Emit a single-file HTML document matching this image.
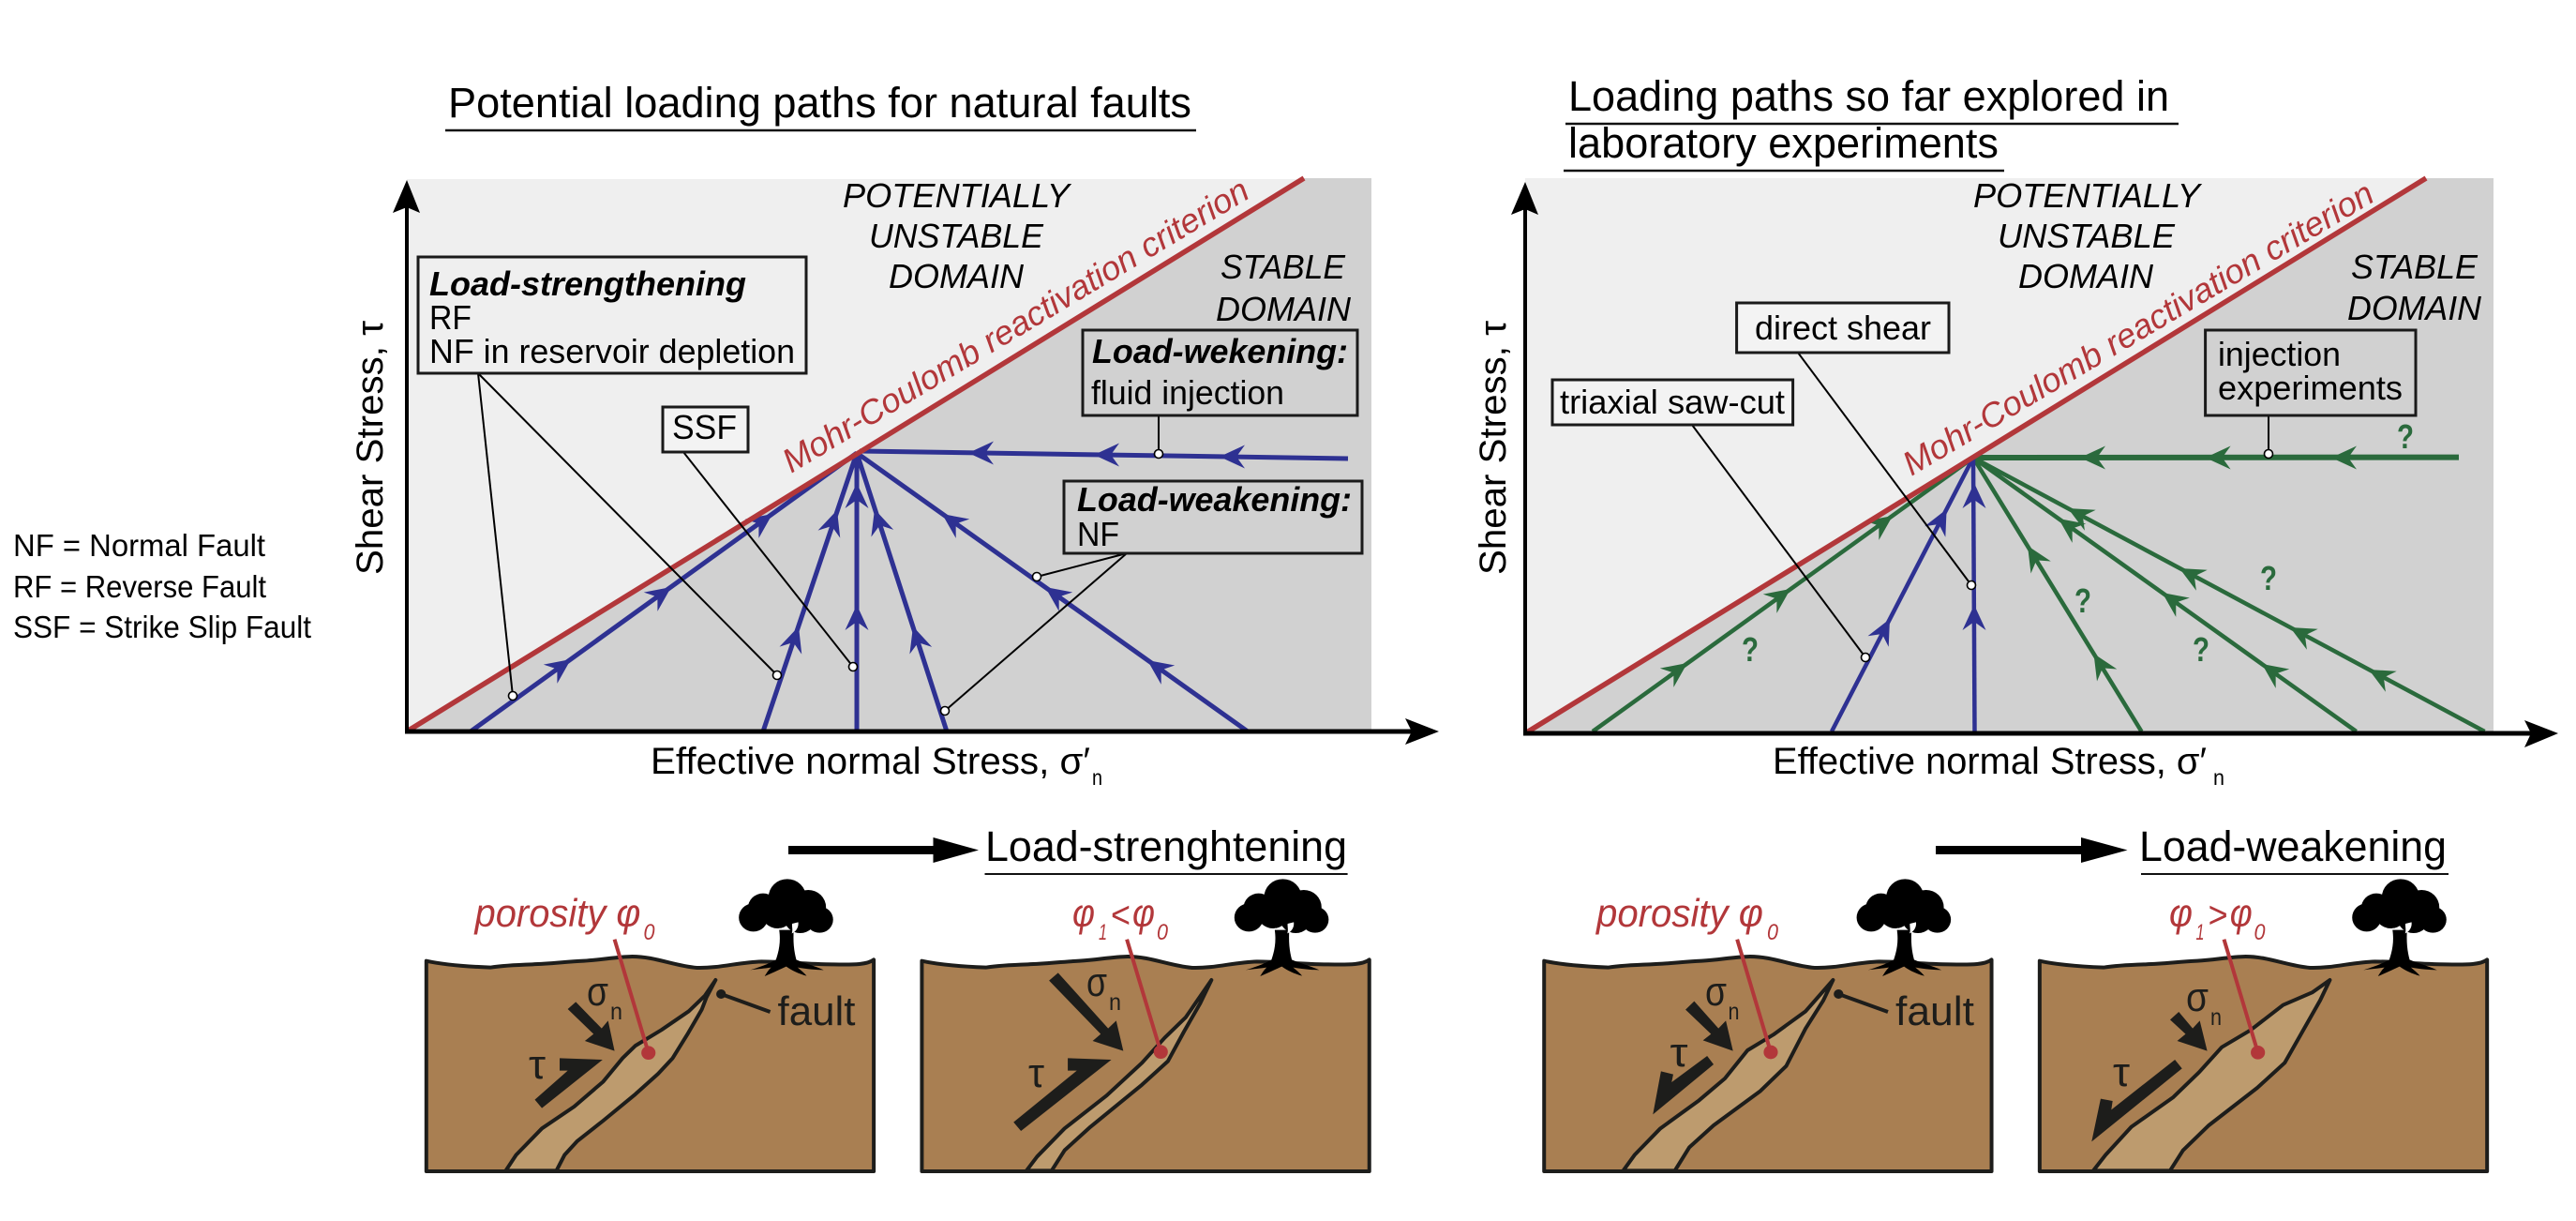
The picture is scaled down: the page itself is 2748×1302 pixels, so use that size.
<!DOCTYPE html>
<html><head><meta charset="utf-8"><style>
html,body{margin:0;padding:0;background:#fff;width:2748px;height:1302px;overflow:hidden}
svg{display:block}
text{font-family:"Liberation Sans","DejaVu Sans",sans-serif}
.i{font-style:italic}.b{font-weight:bold}
.k{stroke:#1d1d1b;stroke-width:4;vector-effect:non-scaling-stroke;stroke-linejoin:round}
.r{stroke:#b2373a;stroke-width:4;vector-effect:non-scaling-stroke}
.bx{stroke:#1a1a1a;stroke-width:3}
.ld{stroke:#000;stroke-width:2;fill:none}
.dot{fill:#fff;stroke:#000;stroke-width:1.6}
.red{fill:#b2373a}
.q{fill:#2a6a3c;font-size:36px;font-weight:bold}
</style></head><body>
<svg xmlns="http://www.w3.org/2000/svg" width="2748" height="1302" viewBox="0 0 2748 1302">
<defs>
<path id="h" d="M0 0L-27 -12.5L-18 0L-27 12.5Z"/>
<g id="ground">
<path class="k" fill="#a97f52" d="M72 434C120 445 200 452 270 455C300 450 340 447 400 445C460 443 500 437 560 434C620 430 660 421 710 420C780 420 840 450 910 456C980 458 1040 438 1110 436C1180 436 1250 445 1330 445C1400 447 1440 445 1458 430L1458 1107L72 1107Z"/>
<g fill="#000">
<circle cx="1190" cy="230" r="58"/><circle cx="1115" cy="265" r="47"/><circle cx="1085" cy="295" r="45"/><circle cx="1255" cy="262" r="55"/><circle cx="1290" cy="302" r="42"/><circle cx="1160" cy="280" r="50"/><circle cx="1230" cy="295" r="50"/>
<path d="M1165 335C1170 370 1165 400 1155 430C1130 445 1100 455 1075 463C1100 460 1120 458 1140 455C1130 465 1125 475 1120 483C1150 470 1170 460 1187 452C1205 465 1225 475 1250 482C1240 470 1230 462 1222 455C1250 460 1280 463 1303 463C1275 450 1240 440 1218 430C1210 400 1208 370 1210 335Z"/>
</g>
<path fill="#fff" d="M1140 325C1150 332 1160 332 1170 328C1160 338 1150 338 1140 325ZM1205 315L1224 310C1226 325 1218 340 1204 346C1208 335 1204 325 1205 315Z"/>
</g>
</defs>

<!-- LEFT CHART -->
<rect x="434" y="191" width="1029" height="589" fill="#efefef"/>
<polygon points="434,780 1391,190 1463,190 1463,780" fill="#d1d1d1"/>
<g stroke="#2e3192" stroke-width="5" fill="none">
<line x1="502" y1="780" x2="914" y2="483"/>
<line x1="814" y1="780" x2="914" y2="483"/>
<line x1="914" y1="780" x2="914" y2="483"/>
<line x1="1010" y1="780" x2="914" y2="483"/>
<line x1="1331" y1="780" x2="914" y2="483"/>
<line x1="1438" y1="489" x2="917" y2="481"/>
</g>
<g fill="#2e3192">
<use href="#h" transform="translate(609 703) rotate(-35.8)"/>
<use href="#h" transform="translate(716 626) rotate(-35.8)"/>
<use href="#h" transform="translate(824 548) rotate(-35.8)"/>
<use href="#h" transform="translate(852 668) rotate(-71.4)"/>
<use href="#h" transform="translate(893 544) rotate(-71.4)"/>
<use href="#h" transform="translate(914 645) rotate(-90)"/>
<use href="#h" transform="translate(914 515) rotate(-90)"/>
<use href="#h" transform="translate(974 668) rotate(-107.9)"/>
<use href="#h" transform="translate(933 543) rotate(-107.9)"/>
<use href="#h" transform="translate(1005 548) rotate(-144.5)"/>
<use href="#h" transform="translate(1115 626) rotate(-144.5)"/>
<use href="#h" transform="translate(1224 704) rotate(-144.5)"/>
<use href="#h" transform="translate(1033 483) rotate(180)"/>
<use href="#h" transform="translate(1167 485) rotate(180)"/>
<use href="#h" transform="translate(1301 487) rotate(180)"/>
</g>
<line x1="434" y1="780" x2="1391" y2="190" stroke="#b2373a" stroke-width="5.5"/>
<line x1="434" y1="205" x2="434" y2="782" stroke="#000" stroke-width="4"/>
<polygon points="434,192 448,227 434,221 419,227" fill="#000"/>
<line x1="432" y1="780" x2="1515" y2="780" stroke="#000" stroke-width="5"/>
<polygon points="1535,780 1499,766 1506,780 1499,794" fill="#000"/>
<g class="ld">
<line x1="510" y1="398" x2="547" y2="742"/><line x1="510" y1="398" x2="829" y2="720"/>
<line x1="729" y1="482" x2="910" y2="711"/>
<line x1="1236" y1="443" x2="1236" y2="484"/>
<line x1="1202" y1="590" x2="1106" y2="615"/><line x1="1202" y1="590" x2="1008" y2="758"/>
</g>
<g class="dot">
<circle cx="547" cy="742" r="4.5"/><circle cx="829" cy="720" r="4.5"/><circle cx="910" cy="711" r="4.5"/><circle cx="1008" cy="758" r="4.5"/><circle cx="1106" cy="615" r="4.5"/><circle cx="1236" cy="484" r="4.5"/>
</g>
<rect class="bx" x="446" y="274" width="414" height="124" fill="#efefef"/>
<rect class="bx" x="707" y="434" width="91" height="48" fill="#f3f3f3"/>
<rect class="bx" x="1155" y="352" width="293" height="91" fill="#d1d1d1"/>
<rect class="bx" x="1135" y="513" width="318" height="77" fill="#d1d1d1"/>
<g font-size="36">
<text x="458" y="315" class="i b" textLength="338" lengthAdjust="spacingAndGlyphs">Load-strengthening</text>
<text x="458" y="351" textLength="45" lengthAdjust="spacingAndGlyphs">RF</text>
<text x="458" y="387" textLength="390" lengthAdjust="spacingAndGlyphs">NF in reservoir depletion</text>
<text x="717" y="468" textLength="69" lengthAdjust="spacingAndGlyphs">SSF</text>
<text x="1165" y="387" class="i b" textLength="273" lengthAdjust="spacingAndGlyphs">Load-wekening:</text>
<text x="1164" y="431" textLength="206" lengthAdjust="spacingAndGlyphs">fluid injection</text>
<text x="1149" y="545" class="i b" textLength="293" lengthAdjust="spacingAndGlyphs">Load-weakening:</text>
<text x="1149" y="582" textLength="45" lengthAdjust="spacingAndGlyphs">NF</text>
<text x="899" y="221" class="i" textLength="242" lengthAdjust="spacingAndGlyphs">POTENTIALLY</text>
<text x="927" y="264" class="i" textLength="186" lengthAdjust="spacingAndGlyphs">UNSTABLE</text>
<text x="948" y="307" class="i" textLength="144" lengthAdjust="spacingAndGlyphs">DOMAIN</text>
<text x="1302" y="297" class="i" textLength="133" lengthAdjust="spacingAndGlyphs">STABLE</text>
<text x="1297" y="342" class="i" textLength="144" lengthAdjust="spacingAndGlyphs">DOMAIN</text>
</g>
<text transform="translate(844 505) rotate(-31)" class="i red" font-size="36" textLength="573" lengthAdjust="spacingAndGlyphs">Mohr-Coulomb reactivation criterion</text>
<text x="478" y="125" font-size="45" textLength="793" lengthAdjust="spacingAndGlyphs">Potential loading paths for natural faults</text>
<line x1="475" y1="139" x2="1276" y2="139" stroke="#111" stroke-width="2.5"/>
<text transform="translate(408 613) rotate(-90)" font-size="40" textLength="271" lengthAdjust="spacingAndGlyphs">Shear Stress, τ</text>
<text x="694" y="825" font-size="40" textLength="469" lengthAdjust="spacingAndGlyphs">Effective normal Stress, σ′</text>
<text x="1165" y="837" font-size="23" textLength="11" lengthAdjust="spacingAndGlyphs">n</text>

<!-- RIGHT CHART -->
<rect x="1627" y="190" width="1033" height="592" fill="#efefef"/>
<polygon points="1627,782 2588,190 2660,190 2660,782" fill="#d1d1d1"/>
<g stroke="#2a6a3c" stroke-width="4.5" fill="none">
<line x1="1699" y1="780" x2="2105" y2="488"/>
<line x1="2284.5" y1="780" x2="2105" y2="488"/>
<line x1="2513.6" y1="780" x2="2105" y2="488"/>
<line x1="2650.5" y1="780" x2="2105" y2="488"/>
<line x1="2623" y1="487.6" x2="2107" y2="488" stroke-width="6"/>
</g>
<g stroke="#2e3192" stroke-width="4.5" fill="none">
<line x1="1954" y1="780" x2="2105" y2="488"/>
<line x1="2106.5" y1="780" x2="2105" y2="488"/>
</g>
<g fill="#2a6a3c">
<use href="#h" transform="translate(1800 707) rotate(-35.7)"/>
<use href="#h" transform="translate(1910 628) rotate(-35.7)"/>
<use href="#h" transform="translate(2019 550) rotate(-35.7)"/>
<use href="#h" transform="translate(2163 582) rotate(-121.6)"/>
<use href="#h" transform="translate(2233.5 697) rotate(-121.6)"/>
<use href="#h" transform="translate(2196 553) rotate(-144.4)"/>
<use href="#h" transform="translate(2306.6 632) rotate(-144.4)"/>
<use href="#h" transform="translate(2413 708) rotate(-144.4)"/>
<use href="#h" transform="translate(2206 542) rotate(-151.8)"/>
<use href="#h" transform="translate(2325 606) rotate(-151.8)"/>
<use href="#h" transform="translate(2443 669) rotate(-151.8)"/>
<use href="#h" transform="translate(2527 714) rotate(-151.8)"/>
<use href="#h" transform="translate(2219 488) rotate(180)"/>
<use href="#h" transform="translate(2352.6 488) rotate(180)"/>
<use href="#h" transform="translate(2487 488) rotate(180)"/>
</g>
<g fill="#2e3192">
<use href="#h" transform="translate(2076.6 543) rotate(-62.7)"/>
<use href="#h" transform="translate(2016 660) rotate(-62.7)"/>
<use href="#h" transform="translate(2106 515) rotate(-90)"/>
<use href="#h" transform="translate(2106 645) rotate(-90)"/>
</g>
<line x1="1627" y1="782" x2="2588" y2="190" stroke="#b2373a" stroke-width="5.5"/>
<line x1="1627" y1="205" x2="1627" y2="784" stroke="#000" stroke-width="4"/>
<polygon points="1627,194 1641,229 1627,223 1612,229" fill="#000"/>
<line x1="1625" y1="782" x2="2710" y2="782" stroke="#000" stroke-width="5"/>
<polygon points="2729,782 2693,768 2700,782 2693,797" fill="#000"/>
<g class="ld">
<line x1="1918" y1="376" x2="2103" y2="624"/>
<line x1="1805" y1="453" x2="1990" y2="701"/>
<line x1="2420" y1="443" x2="2420" y2="484"/>
</g>
<g class="dot">
<circle cx="1990" cy="701" r="4.5"/><circle cx="2103" cy="624" r="4.5"/><circle cx="2420" cy="484" r="4.5"/>
</g>
<rect class="bx" x="1852.6" y="323" width="226.4" height="53" fill="#f3f3f3"/>
<rect class="bx" x="1656" y="405" width="256.6" height="48" fill="#f3f3f3"/>
<rect class="bx" x="2352.6" y="352" width="224.4" height="91" fill="#d1d1d1"/>
<g font-size="36">
<text x="1872" y="362" textLength="188" lengthAdjust="spacingAndGlyphs">direct shear</text>
<text x="1664" y="441" textLength="240" lengthAdjust="spacingAndGlyphs">triaxial saw-cut</text>
<text x="2366" y="390" textLength="131" lengthAdjust="spacingAndGlyphs">injection</text>
<text x="2366" y="426" textLength="197" lengthAdjust="spacingAndGlyphs">experiments</text>
<text x="2105" y="221" class="i" textLength="242" lengthAdjust="spacingAndGlyphs">POTENTIALLY</text>
<text x="2131" y="264" class="i" textLength="189" lengthAdjust="spacingAndGlyphs">UNSTABLE</text>
<text x="2153" y="307" class="i" textLength="144" lengthAdjust="spacingAndGlyphs">DOMAIN</text>
<text x="2508" y="297" class="i" textLength="135" lengthAdjust="spacingAndGlyphs">STABLE</text>
<text x="2504" y="341" class="i" textLength="143" lengthAdjust="spacingAndGlyphs">DOMAIN</text>
</g>
<text transform="translate(2039 508) rotate(-30.7)" class="i red" font-size="36" textLength="577" lengthAdjust="spacingAndGlyphs">Mohr-Coulomb reactivation criterion</text>
<text x="1858" y="705" class="q" textLength="18" lengthAdjust="spacingAndGlyphs">?</text>
<text x="2213" y="653" class="q" textLength="18" lengthAdjust="spacingAndGlyphs">?</text>
<text x="2339" y="705" class="q" textLength="18" lengthAdjust="spacingAndGlyphs">?</text>
<text x="2411" y="629" class="q" textLength="18" lengthAdjust="spacingAndGlyphs">?</text>
<text x="2557" y="478" class="q" textLength="18" lengthAdjust="spacingAndGlyphs">?</text>
<text x="1673" y="118" font-size="45" textLength="641" lengthAdjust="spacingAndGlyphs">Loading paths so far explored in</text>
<line x1="1670" y1="132" x2="2324" y2="132" stroke="#111" stroke-width="2.5"/>
<text x="1673" y="168" font-size="45" textLength="459" lengthAdjust="spacingAndGlyphs">laboratory experiments</text>
<line x1="1668" y1="182" x2="2138" y2="182" stroke="#111" stroke-width="2.5"/>
<text transform="translate(1606 613) rotate(-90)" font-size="40" textLength="271" lengthAdjust="spacingAndGlyphs">Shear Stress, τ</text>
<text x="1891" y="825" font-size="40" textLength="463" lengthAdjust="spacingAndGlyphs">Effective normal Stress, σ′</text>
<text x="2361" y="837" font-size="23" textLength="12" lengthAdjust="spacingAndGlyphs">n</text>

<!-- LEGEND -->
<g font-size="33">
<text x="14" y="593" textLength="269" lengthAdjust="spacingAndGlyphs">NF = Normal Fault</text>
<text x="14" y="637" textLength="270" lengthAdjust="spacingAndGlyphs">RF = Reverse Fault</text>
<text x="14" y="680" textLength="318" lengthAdjust="spacingAndGlyphs">SSF = Strike Slip Fault</text>
</g>

<!-- PANEL 1 -->
<g transform="translate(430 880) scale(0.34439 0.33333)">
<use href="#ground"/>
<polygon class="k" fill="#bd9b6e" points="318,1105 350,1055 430,970 530,900 620,820 680,745 720,705 800,655 885,595 935,545 968,495 940,550 925,590 880,670 835,745 790,795 720,860 620,945 540,1010 500,1055 475,1105"/>
<g fill="#1d1d1b">
<polygon points="510,588 535,565 615,650 635,625 655,722 563,690 590,668"/>
<polygon points="408,878 510,785 485,785 485,745 618,750 430,905"/>
<circle cx="985" cy="540" r="15"/>
</g>
<line class="k" x1="985" y1="540" x2="1137" y2="597"/>
<line class="r" x1="655" y1="365" x2="760" y2="728"/>
<circle cx="760" cy="728" r="22" fill="#b2373a"/>
</g>
<!-- PANEL 2 -->
<g transform="translate(960 880) scale(0.34439 0.33333)">
<use href="#ground" transform="translate(-4 0)"/>
<polygon class="k" fill="#bd9b6e" points="392,1105 425,1060 510,970 640,865 750,760 820,680 885,615 965,495 930,570 880,660 830,755 750,830 590,965 510,1040 470,1105"/>
<g fill="#1d1d1b">
<polygon points="462,497 490,472 645,650 670,625 692,722 597,690 622,668"/>
<polygon points="352,950 548,785 520,785 520,745 655,750 375,978"/>
</g>
<line class="r" x1="703" y1="365" x2="808" y2="725"/>
<circle cx="808" cy="725" r="22" fill="#b2373a"/>
</g>
<!-- PANEL 3 -->
<g transform="translate(1630 880) scale(0.34439 0.33333)">
<use href="#ground" transform="translate(-22 0)"/>
<polygon class="k" fill="#bd9b6e" points="295,1105 330,1055 410,970 530,880 610,810 680,720 760,670 860,595 945,495 915,560 860,650 825,720 800,770 720,850 575,960 500,1030 455,1105"/>
<g fill="#1d1d1b">
<polygon points="488,590 515,563 590,650 613,625 635,722 542,688 567,668"/>
<polygon points="575,765 555,738 445,822 450,797 412,787 387,925"/>
<circle cx="962" cy="540" r="15"/>
</g>
<line class="k" x1="962" y1="540" x2="1115" y2="597"/>
<line class="r" x1="648" y1="365" x2="752" y2="726"/>
<circle cx="752" cy="726" r="22" fill="#b2373a"/>
</g>
<!-- PANEL 4 -->
<g transform="translate(2160 880) scale(0.34439 0.33333)">
<use href="#ground" transform="translate(-26 0)"/>
<polygon class="k" fill="#bd9b6e" points="212,1105 250,1055 330,965 460,870 540,790 610,710 700,655 800,575 890,535 945,495 915,560 860,660 805,760 720,840 570,960 490,1040 450,1105"/>
<g fill="#1d1d1b">
<polygon points="450,622 477,597 520,650 542,625 565,722 472,690 498,668"/>
<polygon points="487,778 465,750 268,910 272,882 235,875 207,1012"/>
</g>
<line class="r" x1="617" y1="365" x2="722" y2="727"/>
<circle cx="722" cy="727" r="22" fill="#b2373a"/>
</g>

<!-- panel text -->
<g fill="#1d1d1b">
<text x="829.5" y="1093" font-size="44" textLength="83" lengthAdjust="spacingAndGlyphs">fault</text>
<text x="2022" y="1093" font-size="44" textLength="84" lengthAdjust="spacingAndGlyphs">fault</text>
<g font-size="44">
<text x="626" y="1072" textLength="23" lengthAdjust="spacingAndGlyphs">σ</text>
<text x="564" y="1150" textLength="18" lengthAdjust="spacingAndGlyphs">τ</text>
<text x="1159" y="1062" textLength="22" lengthAdjust="spacingAndGlyphs">σ</text>
<text x="1097" y="1159" textLength="17" lengthAdjust="spacingAndGlyphs">τ</text>
<text x="1819" y="1072" textLength="23" lengthAdjust="spacingAndGlyphs">σ</text>
<text x="1781.5" y="1137" textLength="19" lengthAdjust="spacingAndGlyphs">τ</text>
<text x="2332" y="1078" textLength="24" lengthAdjust="spacingAndGlyphs">σ</text>
<text x="2254" y="1158" textLength="18" lengthAdjust="spacingAndGlyphs">τ</text>
</g>
<g font-size="25">
<text x="651" y="1087" textLength="13" lengthAdjust="spacingAndGlyphs">n</text>
<text x="1183" y="1077" textLength="13" lengthAdjust="spacingAndGlyphs">n</text>
<text x="1843.5" y="1087" textLength="12" lengthAdjust="spacingAndGlyphs">n</text>
<text x="2358" y="1093" textLength="12" lengthAdjust="spacingAndGlyphs">n</text>
</g>
</g>
<g class="red i">
<text x="506.5" y="988" font-size="42" textLength="177" lengthAdjust="spacingAndGlyphs">porosity φ</text>
<text x="686.5" y="1002" font-size="24" textLength="12" lengthAdjust="spacingAndGlyphs">0</text>
<text x="1703" y="988" font-size="42" textLength="178" lengthAdjust="spacingAndGlyphs">porosity φ</text>
<text x="1885" y="1002" font-size="24" textLength="12" lengthAdjust="spacingAndGlyphs">0</text>
<text x="1144" y="988" font-size="42" textLength="24" lengthAdjust="spacingAndGlyphs">φ</text>
<text x="1172" y="1002" font-size="24" textLength="9" lengthAdjust="spacingAndGlyphs">1</text>
<text x="1208" y="988" font-size="42" textLength="24" lengthAdjust="spacingAndGlyphs">φ</text>
<text x="1234" y="1002" font-size="24" textLength="12" lengthAdjust="spacingAndGlyphs">0</text>
<text x="2314" y="988" font-size="42" textLength="25" lengthAdjust="spacingAndGlyphs">φ</text>
<text x="2342.5" y="1002" font-size="24" textLength="9" lengthAdjust="spacingAndGlyphs">1</text>
<text x="2378.7" y="988" font-size="42" textLength="24" lengthAdjust="spacingAndGlyphs">φ</text>
<text x="2404.5" y="1002" font-size="24" textLength="12" lengthAdjust="spacingAndGlyphs">0</text>
</g>
<g class="red" font-size="40">
<text x="1185" y="989" textLength="21" lengthAdjust="spacingAndGlyphs">&lt;</text>
<text x="2355.6" y="989" textLength="21" lengthAdjust="spacingAndGlyphs">&gt;</text>
</g>

<!-- transitions -->
<rect x="841" y="902" width="156" height="9" fill="#000"/>
<polygon points="995.5,893 1044,906.5 995.5,920" fill="#000"/>
<text x="1051" y="918" font-size="45" textLength="386" lengthAdjust="spacingAndGlyphs">Load-strenghtening</text>
<line x1="1050.5" y1="932" x2="1437.6" y2="932" stroke="#111" stroke-width="2"/>
<rect x="2065" y="902" width="157" height="9" fill="#000"/>
<polygon points="2220,893 2269.5,906.5 2220,920" fill="#000"/>
<text x="2282" y="918" font-size="45" textLength="328" lengthAdjust="spacingAndGlyphs">Load-weakening</text>
<line x1="2284" y1="932" x2="2612" y2="932" stroke="#111" stroke-width="2"/>
</svg>
</body></html>
